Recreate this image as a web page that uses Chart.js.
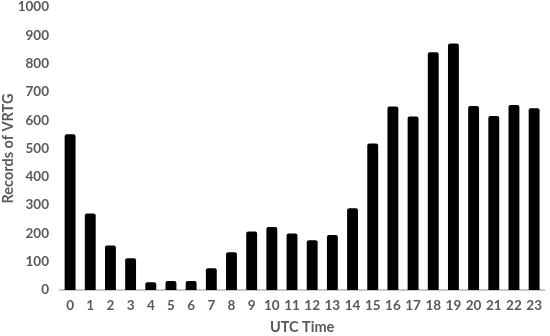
<!DOCTYPE html>
<html>
<head>
<meta charset="utf-8">
<script src="https://cdn.jsdelivr.net/npm/chart.js@4"></script>
<style>
html,body{margin:0;padding:0;background:#fff;}
#wrap{width:550px;height:336px;}
</style>
</head>
<body>
<div id="wrap"><canvas id="c" width="550" height="336"></canvas></div>
<script>
const categories = ["0","1","2","3","4","5","6","7","8","9","10","11","12","13","14","15","16","17","18","19","20","21","22","23"];
const records = [550, 270, 157, 112, 27, 32, 32, 77, 133, 207, 223, 200, 176, 194, 289, 518, 648, 613, 840, 871, 650, 615, 654, 642];
const yTicks = [0,100,200,300,400,500,600,700,800,900,1000];
const xTitle = "UTC Time";
const yTitle = "Records of VRTG";

const textColor = "#595959";
const fontFamily = "Lato, 'Open Sans', sans-serif";

new Chart(document.getElementById('c'), {
  type: 'bar',
  data: {
    labels: categories,
    datasets: [{
      data: records,
      backgroundColor: '#000000',
      borderRadius: {topLeft: 2, topRight: 2, bottomLeft: 0, bottomRight: 0},
      borderSkipped: 'bottom',
      barPercentage: 0.54,
      categoryPercentage: 1.0
    }]
  },
  options: {
    responsive: false,
    animation: false,
    devicePixelRatio: 1,
    layout: {padding: {top: 7, right: 2, bottom: 0, left: 0}},
    plugins: {legend: {display: false}, tooltip: {enabled: false}},
    scales: {
      x: {
        z: 1,
        grid: {display: false, drawTicks: false},
        border: {display: true, color: '#c8c8c8', width: 2},
        ticks: {color: textColor, font: {family: fontFamily, size: 13.5, weight: 'bold'}, padding: 8, maxRotation: 0, autoSkip: false},
        title: {display: true, text: xTitle, color: textColor, font: {family: fontFamily, size: 14.5, weight: 'bold'}, padding: {top: 1, bottom: 0}},
        afterFit: (s) => { s.height = 46; }
      },
      y: {
        min: 0, max: 1000,
        afterBuildTicks: (s) => { s.ticks = yTicks.map(v => ({value: v})); },
        grid: {display: false, drawTicks: false},
        border: {display: false},
        ticks: {color: textColor, font: {family: fontFamily, size: 13.5, weight: 'bold'}, padding: 11, callback: (v) => String(v)},
        title: {display: true, text: yTitle, color: textColor, font: {family: fontFamily, size: 14.5, weight: 'bold'}, padding: {top: 0, bottom: 4}},
        afterFit: (s) => { s.width = 60; s.paddingTop = 0; s.paddingBottom = 0; }
      }
    }
  }
});
</script>
</body>
</html>
